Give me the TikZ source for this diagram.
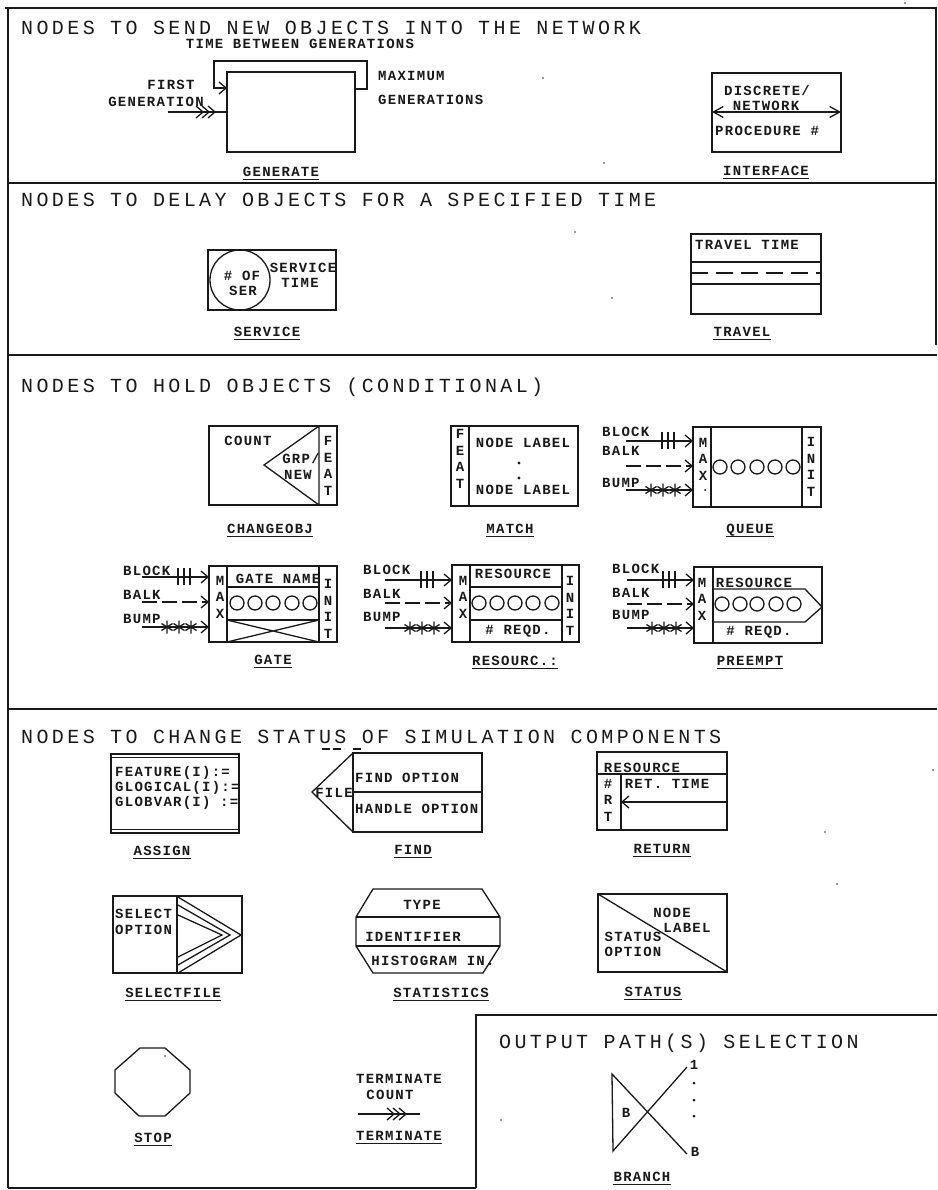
\documentclass[tikz,border=0pt]{standalone}
\usepackage{fontspec}
\usetikzlibrary{arrows.meta}
\newfontfamily\headface[LetterSpace=17]{Liberation Mono}
\newfontfamily\labelface[LetterSpace=9]{Liberation Mono Bold}
\newcommand\hfont{\headface\fontsize{20}{20}\selectfont}
\newcommand\lfont{\labelface\fontsize{14}{16.5}\selectfont}
\tikzset{
  x=1pt,y=-1pt,
  ink/.style={line width=1.3pt,black!90},
  frameline/.style={line width=2.2pt,black!90},
  nbox/.style={ink,draw,rectangle,inner sep=0pt,outer sep=0pt,anchor=north west},
  head/.style={font=\hfont,anchor=west,inner sep=0pt,text height=13pt,text depth=0pt,black!90},
  lab/.style={font=\lfont,inner sep=0pt,text height=9pt,text depth=0pt,black!90},
  vlab/.style={font=\lfont,inner sep=0pt,align=center,black!90},
  ring/.style={ink,draw,circle,minimum size=14pt,inner sep=0pt},
  arr/.style={ink,-{Straight Barb[length=7pt,width=12pt,line width=1.3pt]}},
  pics/chevrons/.style={code={
    \foreach \d in {0,6,12}{\draw[ink] (\d-7,-6) -- (\d,0) -- (\d-7,6);}
  }},
  pics/ticks/.style={code={
    \foreach \d in {0,6,12}{\draw[ink] (\d,-9) -- (\d,8);}
  }},
  pics/star/.style={code={
    \draw[ink] (0,-6.5) -- (0,6.5) (-5.5,-3.5) -- (5.5,3.5) (-5.5,3.5) -- (5.5,-3.5);
  }},
}
\newcommand\bx[5]{\node[nbox,minimum width={(#4-#2)*1pt},minimum height={(#5-#3)*1pt}] (#1) at (#2,#3) {};}
\newcommand\tx[4]{\node[lab] (#1) at (#2,#3) {#4};}
\newcommand\tl[4]{\node[lab,anchor=west] (#1) at (#2,#3) {#4};}
\newcommand\vt[4]{\node[vlab] (#1) at (#2,#3) {#4};}
\newcommand\ul[4]{\node[lab] (#1) at (#2,#3) {#4};
  \draw[line width=1pt,black!90] ([yshift=-2.5pt]#1.south west) -- ([yshift=-2.5pt]#1.south east);}
\newcommand\rings[6]{\foreach \n/\px in {1/#2,2/#3,3/#4,4/#5,5/#6}{\node[ring] (#1r\n) at (\px,\ringy) {};}}
% box name, box left x, label x, three label y, three arrow y
\newcommand\feeds[9]{%
  \tl{#1tb}{#3}{#4}{BLOCK}\tl{#1tk}{#3}{#5}{BALK}\tl{#1tp}{#3}{#6}{BUMP}%
  \coordinate (#1s1) at (#2-67,#7);\coordinate (#1s2) at (#2-67,#8);\coordinate (#1s3) at (#2-67,#9);%
  \draw[arr] (#1s1) -- (#1.west |- #1s1);%
  \draw[arr,dash pattern=on 15pt off 5pt] (#1s2) -- (#1.west |- #1s2);%
  \draw[arr] (#1s3) -- (#1.west |- #1s3);%
  \pic at (#2-31,#7) {ticks};%
  \pic at (#2-42,#9) {star};\pic at (#2-30,#9) {star};\pic at (#2-18,#9) {star};%
}
\begin{document}
\begin{tikzpicture}
\useasboundingbox (0,0) rectangle (937,1190);
\fill[white] (0,0) rectangle (937,1190);
% frame and section rules
\draw[frameline] (5,8) -- (937,8);
\draw[frameline] (8,8) -- (8,1188);
\draw[frameline] (936,8) -- (936,345);
\draw[frameline] (8,183) -- (937,183);
\draw[frameline] (8,355) -- (937,355);
\draw[frameline] (8,709) -- (937,709);
\draw[frameline] (8,1188) -- (476,1188);
\draw[frameline] (476,1188) -- (476,1015) -- (937,1015);
% headings
\node[head] (h1) at (21,28) {NODES TO SEND NEW OBJECTS INTO THE NETWORK};
\node[head] (h2) at (21,200) {NODES TO DELAY OBJECTS FOR A SPECIFIED TIME};
\node[head] (h3) at (21,386) {NODES TO HOLD OBJECTS (CONDITIONAL)};
\node[head] (h4) at (21,737) {NODES TO CHANGE STATUS OF SIMULATION COMPONENTS};
\node[head] (h5) at (499,1042) {OUTPUT PATH(S) SELECTION};
\draw[ink,dash pattern=on 8pt off 3pt] (322,749) -- (344,749) (353,749) -- (362,749);
% GENERATE
\bx{gen}{227}{72}{355}{152}
\coordinate (genout) at (355,89);
\coordinate (genback) at (227,88);
\coordinate (genfirst) at (168,112);
\draw[arr] (genout) -| (367,61) -| (214,88) -- (genback);
\draw[ink] (genfirst) -- (gen.west |- genfirst);
\pic at (203,112) {chevrons};
\tx{gt}{300}{44}{TIME BETWEEN GENERATIONS}
\tx{gf}{171}{85}{FIRST}
\tx{gg}{156}{102}{GENERATION}
\tl{gm}{378}{76}{MAXIMUM}
\tl{gn}{378}{100}{GENERATIONS}
\ul{gl}{281}{172}{GENERATE}
% INTERFACE
\bx{ifc}{712}{73}{841}{152}
\coordinate (ifa) at (712,112);\coordinate (ifb) at (841,112);
\draw[ink,{Straight Barb[length=10pt,width=11pt,line width=1.3pt]}-{Straight Barb[length=10pt,width=11pt,line width=1.3pt]}] (ifa) -- (ifb);
\tx{if1}{767}{91}{DISCRETE/}
\tx{if2}{766}{106}{NETWORK}
\tl{if3}{715}{131}{PROCEDURE \#}
\ul{ifl}{766}{171}{INTERFACE}
% SERVICE
\bx{srv}{208}{250}{336}{310}
\node[ink,draw,circle,minimum size=60pt,inner sep=0pt] (srvc) at (240,280) {};
\tx{sv1}{242}{276}{\# OF}
\tx{sv2}{243}{291}{SER}
\tx{sv3}{303}{268}{SERVICE}
\tx{sv4}{300}{283}{TIME}
\ul{svl}{267}{332}{SERVICE}
% TRAVEL
\bx{trv}{691}{234}{821}{314}
\coordinate (trA) at (691,262);\coordinate (trB) at (691,273);\coordinate (trC) at (691,284);
\draw[ink] (trA) -- (trv.east |- trA) (trC) -- (trv.east |- trC);
\draw[ink,dash pattern=on 17pt off 8pt] (trB) -- (trv.east |- trB);
\tx{tr1}{747}{245}{TRAVEL TIME}
\ul{trl}{742}{332}{TRAVEL}
% CHANGEOBJ
\bx{chg}{209}{426}{337}{505}
\coordinate (chA) at (319,426);\coordinate (chB) at (319,505);\coordinate (chT) at (264,465);
\draw[ink] (chA) -- (chB) (chA) -- (chT) -- (chB);
\tx{ch1}{248}{441}{COUNT}
\tx{ch2}{301}{459}{GRP/}
\tx{ch3}{298}{475}{NEW}
\vt{ch4}{328}{466}{F\\E\\A\\T}
\ul{chl}{270}{529}{CHANGEOBJ}
% MATCH
\bx{mat}{451}{426}{578}{506}
\draw[ink] (469,426) -- (469,506);
\vt{ma1}{460}{459}{F\\E\\A\\T}
\tx{ma2}{523}{443}{NODE LABEL}
\tx{ma3}{523}{490}{NODE LABEL}
\fill[black!90] (519,463) circle (1.6) (519,478) circle (1.6);
\ul{mal}{510}{529}{MATCH}
% QUEUE
\bx{que}{693}{427}{821}{507}
\draw[ink] (711,427) -- (711,507) (802,427) -- (802,507);
\vt{qu1}{703}{459}{M\\A\\X}
\fill[black!90] (705,490) circle (1);
\vt{qu2}{811}{467}{I\\N\\I\\T}
\def\ringy{467}\rings{que}{720}{738}{757}{775}{793}
\feeds{que}{693}{602}{432}{451}{483}{441}{466}{490}
\ul{qul}{750}{529}{QUEUE}
% GATE
\bx{gat}{209}{566}{337}{642}
\draw[ink] (227,566) -- (227,642) (319,566) -- (319,642);
\draw[ink] (227,587) -- (319,587) (227,620) -- (319,620);
\draw[ink] (227,620) -- (319,642) (227,642) -- (319,620);
\vt{ga1}{220}{597}{M\\A\\X}
\vt{ga2}{328}{609}{I\\N\\I\\T}
\tx{ga3}{278}{579}{GATE NAME}
\def\ringy{603}\rings{gat}{237}{255}{273}{292}{310}
\feeds{gat}{209}{123}{571}{595}{619}{577}{602}{627}
\ul{gal}{273}{660}{GATE}
% RESOURCE
\bx{res}{452}{565}{579}{642}
\draw[ink] (470,565) -- (470,642) (562,565) -- (562,642);
\draw[ink] (470,587) -- (562,587) (470,620) -- (562,620);
\vt{re1}{463}{597}{M\\A\\X}
\vt{re2}{570}{606}{I\\N\\I\\T}
\tx{re3}{513}{574}{RESOURCE}
\tx{re4}{518}{630}{\# REQD.}
\def\ringy{603}\rings{res}{479}{497}{515}{533}{552}
\feeds{res}{452}{363}{570}{594}{617}{580}{603}{628}
\ul{rel}{515}{661}{RESOURC.:}
% PREEMPT
\bx{pre}{694}{567}{822}{643}
\draw[ink] (713,567) -- (713,643);
\draw[ink] (713,589) -- (805,589) -- (822,607) -- (805,622) -- (713,622);
\vt{pr1}{702}{599}{M\\A\\X}
\tx{pr3}{754}{583}{RESOURCE}
\tx{pr4}{759}{631}{\# REQD.}
\def\ringy{604}\rings{pre}{722}{740}{757}{776}{794}
\feeds{pre}{694}{612}{569}{593}{615}{580}{604}{628}
\ul{prl}{750}{661}{PREEMPT}
% ASSIGN
\bx{asg}{111}{754}{239}{833}
\draw[ink] (111,757.5) -- (239,757.5) (111,829.5) -- (239,829.5);
\tl{as1}{115}{772}{FEATURE(I):=}
\tl{as2}{115}{787}{GLOGICAL(I):=}
\tl{as3}{115}{802}{GLOBVAR(I) :=}
\ul{asl}{162}{851}{ASSIGN}
% FIND
\bx{fnd}{353}{753}{482}{832}
\draw[ink] (353,792) -- (482,792);
\draw[ink] (353,753) -- (312,792) -- (353,832);
\tx{fi1}{334}{793}{FILE}
\tl{fi2}{355}{778}{FIND OPTION}
\tl{fi3}{355}{809}{HANDLE OPTION}
\ul{fil}{413}{850}{FIND}
% RETURN
\bx{ret}{597}{752}{727}{830}
\draw[ink] (597,774) -- (727,774) (621,774) -- (621,830);
\coordinate (rta) at (727,802);\coordinate (rtb) at (621,802);
\draw[arr] (rta) -- (rtb);
\tx{rt1}{642}{768}{RESOURCE}
\tx{rt2}{667}{784}{RET. TIME}
\vt{rt3}{608}{800}{\#\\R\\T}
\ul{rtl}{662}{849}{RETURN}
% SELECTFILE
\bx{sel}{113}{896}{242}{973}
\draw[ink] (177,896) -- (177,973);
\draw[ink] (178,897) -- (241,935) -- (178,973);
\draw[ink] (178,905) -- (230,935) -- (178,965);
\draw[ink] (178,915) -- (222,935) -- (178,957);
\tl{se1}{115}{914}{SELECT}
\tl{se2}{115}{930}{OPTION}
\ul{sel2}{173}{993}{SELECTFILE}
% STATISTICS
\draw[ink] (373,889) -- (482,889) -- (500,917) -- (500,946) -- (483,973) -- (373,973) -- (356,946) -- (356,917) -- cycle;
\draw[ink] (356,917) -- (500,917) (356,946) -- (500,946);
\tx{st1}{422}{905}{TYPE}
\tx{st2}{413}{937}{IDENTIFIER}
\tx{st3}{433}{961}{HISTOGRAM IN.}
\ul{stl}{441}{993}{STATISTICS}
% STATUS
\bx{sta}{598}{894}{727}{972}
\draw[ink] (sta.north west) -- (sta.south east);
\tx{su1}{672}{913}{NODE}
\tx{su2}{687}{928}{LABEL}
\tx{su3}{633}{937}{STATUS}
\tx{su4}{633}{952}{OPTION}
\ul{sul}{653}{992}{STATUS}
% STOP
\draw[ink] (140,1048) -- (165,1048) -- (190,1070) -- (190,1093) -- (165,1116) -- (139,1116) -- (115,1093) -- (115,1070) -- cycle;
\ul{spl}{153}{1138}{STOP}
% TERMINATE
\tx{te1}{399}{1079}{TERMINATE}
\tx{te2}{390}{1095}{COUNT}
\coordinate (tea) at (358,1114);\coordinate (teb) at (420,1114);
\draw[ink] (tea) -- (teb);
\pic at (394,1114) {chevrons};
\ul{tel}{399}{1136}{TERMINATE}
% BRANCH
\coordinate (bra) at (612,1074);\coordinate (brb) at (613,1151);
\coordinate (bre) at (687,1154);\coordinate (brf) at (687,1067);
\draw[ink] (brf) -- (brb) -- (bra) -- (bre);
\tx{br1}{626}{1113}{B}
\tx{br2}{694}{1065}{1}
\tx{br3}{695}{1152}{B}
\fill[black!90] (694,1083) circle (1.5) (694,1100) circle (1.5) (694,1116) circle (1.5);
\ul{brl}{642}{1177}{BRANCH}
% specks in the scan
\fill[black!80] (543,78) circle (0.9) (604,163) circle (0.9) (575,232) circle (0.9)
  (612,298) circle (0.9) (501,1120) circle (0.9) (165,1056) circle (0.9)
  (825,832) circle (0.8) (837,884) circle (0.8) (933,770) circle (0.8) (905,3) circle (0.8);
\end{tikzpicture}
\end{document}
